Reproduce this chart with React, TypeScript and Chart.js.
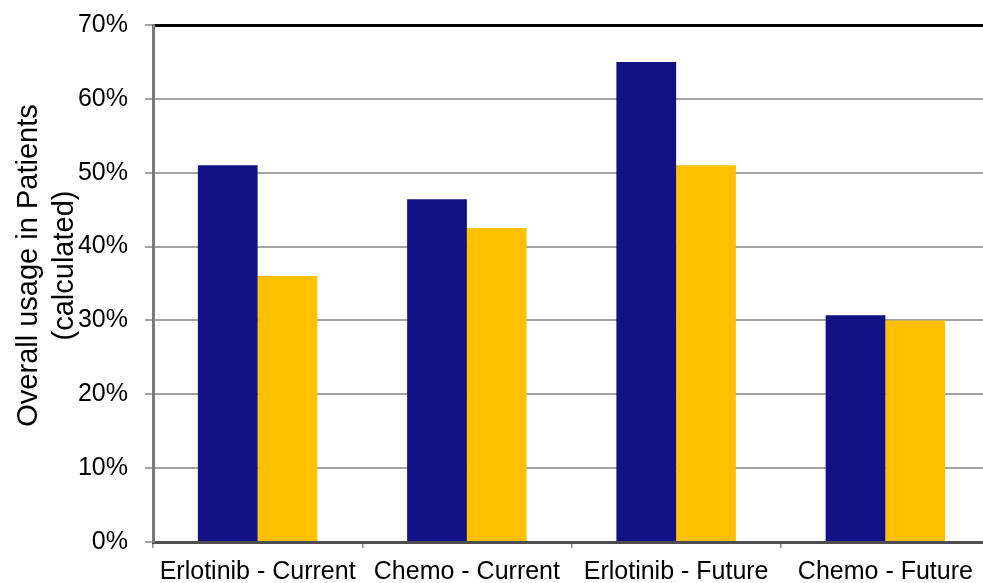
import React, { useEffect, useRef } from "react";
import { Chart, registerables } from "chart.js";

Chart.register(...registerables);

// Usage categories along the x axis
const categories = [
  "Erlotinib - Current",
  "Chemo - Current",
  "Erlotinib - Future",
  "Chemo - Future",
];

// Two series of overall usage, in percent
const seriesA = [51, 46.4, 65, 30.7];
const seriesB = [36, 42.5, 51, 30];

// Y axis range and step, in percent
const yMin = 0;
const yMax = 70;
const yStep = 10;

const yTitleLines = ["Overall usage in Patients", "(calculated)"];

const FONT = "'Liberation Sans', Arial, sans-serif";

// Draws the two-line rotated y-axis title to the left of the tick labels
const yTitlePlugin = {
  id: "yTitle",
  afterDraw(chart: any) {
    const ctx = chart.ctx;
    const midY = (chart.chartArea.top + chart.chartArea.bottom) / 2 - 18;
    const baselines = [37, 73];
    ctx.save();
    ctx.fillStyle = "#000";
    ctx.font = `29px ${FONT}`;
    ctx.textAlign = "center";
    ctx.textBaseline = "alphabetic";
    yTitleLines.forEach((line, i) => {
      ctx.save();
      ctx.translate(baselines[i], midY);
      ctx.rotate(-Math.PI / 2);
      ctx.fillText(line, 0, 0);
      ctx.restore();
    });
    ctx.restore();
  },
};

export default function App() {
  const canvasRef = useRef<HTMLCanvasElement | null>(null);

  useEffect(() => {
    document.body.style.margin = "0";
    document.body.style.overflow = "hidden";
    const canvas = canvasRef.current;
    if (!canvas) return;

    const chart = new Chart(canvas, {
      type: "bar",
      data: {
        labels: categories,
        datasets: [
          {
            label: "A",
            data: seriesA,
            backgroundColor: "#111184",
            borderWidth: 0,
            xAxisID: "x",
          },
          {
            label: "B",
            data: seriesB,
            backgroundColor: "#FFC000",
            borderWidth: 0,
            xAxisID: "x",
          },
        ],
      },
      options: {
        responsive: false,
        animation: false,
        devicePixelRatio: 1,
        layout: { padding: { top: 25, right: 10, left: 0, bottom: 0 } },
        plugins: {
          legend: { display: false },
          tooltip: { enabled: false },
        },
        datasets: {
          bar: { categoryPercentage: 0.571, barPercentage: 1 },
        },
        scales: {
          x: {
            type: "category",
            position: "bottom",
            offset: true,
            afterFit: (s: any) => {
              s.height = 41;
            },
            grid: {
              drawOnChartArea: false,
              drawTicks: true,
              tickLength: 6,
              color: "#8c8c8c",
              lineWidth: 1.5,
              offset: true,
            },
            border: { display: true, color: "#4d4d4d", width: 3 },
            ticks: {
              color: "#000",
              font: { family: FONT, size: 25 },
              padding: 9,
              maxRotation: 0,
              autoSkip: false,
            },
          },
          xTop: {
            type: "category",
            position: "top",
            offset: true,
            afterFit: (s: any) => {
              s.height = 0;
            },
            grid: { display: true, drawOnChartArea: false, drawTicks: false },
            border: { display: true, color: "#000", width: 3 },
            ticks: { display: false },
          },
          y: {
            type: "linear",
            min: yMin,
            max: yMax,
            afterFit: (s: any) => {
              s.width = 153;
              s.paddingTop = 12;
              s.paddingBottom = 12;
            },
            grid: {
              color: "#a3a3a3",
              lineWidth: 2,
              tickLength: 8,
              drawTicks: true,
            },
            border: { display: true, color: "#7a7a7a", width: 3 },
            ticks: {
              stepSize: yStep,
              color: "#000",
              font: { family: FONT, size: 25 },
              padding: 17,
              callback: (v: any) => `${v}%`,
            },
          },
        },
      },
      plugins: [yTitlePlugin],
    });

    return () => chart.destroy();
  }, []);

  return (
    <div style={{ width: 983, height: 583, overflow: "hidden", position: "relative", background: "#fff" }}>
      <canvas ref={canvasRef} width={1000} height={583} style={{ display: "block" }} />
    </div>
  );
}
